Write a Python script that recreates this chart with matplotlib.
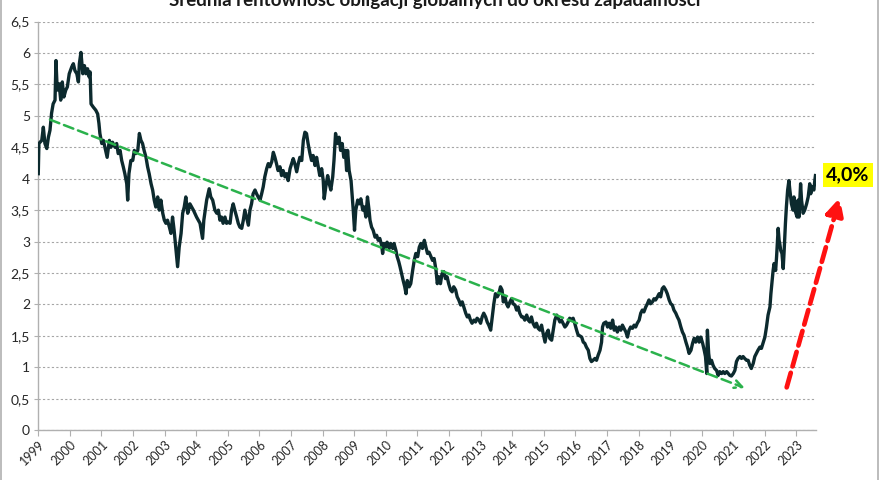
import numpy as np
import matplotlib
matplotlib.use('Agg')
import matplotlib.pyplot as plt
from matplotlib.lines import Line2D

plt.rcParams['font.family'] = ['Lato', 'DejaVu Sans']

# data (decimal year, yield in %)
years = [
    1999.00, 1999.02, 1999.11, 1999.16, 1999.21, 1999.27, 1999.32, 1999.37, 1999.42, 1999.47,
    1999.53, 1999.56, 1999.60, 1999.66, 1999.71, 1999.76, 1999.81, 1999.87, 1999.92, 1999.98,
    2000.06, 2000.11, 2000.16, 2000.22, 2000.27, 2000.30, 2000.35, 2000.41, 2000.46, 2000.51,
    2000.56, 2000.61, 2000.64, 2000.67, 2000.74, 2000.82, 2000.88, 2000.92, 2000.95, 2001.01,
    2001.06, 2001.11, 2001.18, 2001.25, 2001.30, 2001.35, 2001.43, 2001.48, 2001.53, 2001.59,
    2001.64, 2001.69, 2001.74, 2001.80, 2001.83, 2001.87, 2001.93, 2001.99, 2002.04, 2002.09,
    2002.15, 2002.20, 2002.25, 2002.30, 2002.35, 2002.41, 2002.46, 2002.51, 2002.57, 2002.62,
    2002.67, 2002.72, 2002.78, 2002.83, 2002.88, 2002.94, 2002.99, 2003.04, 2003.09, 2003.15,
    2003.20, 2003.25, 2003.30, 2003.36, 2003.41, 2003.46, 2003.52, 2003.57, 2003.62, 2003.67,
    2003.73, 2003.78, 2003.80, 2003.91, 2004.01, 2004.12, 2004.20, 2004.24, 2004.33, 2004.41,
    2004.46, 2004.52, 2004.59, 2004.65, 2004.70, 2004.75, 2004.80, 2004.85, 2004.91, 2004.96,
    2005.01, 2005.07, 2005.12, 2005.17, 2005.22, 2005.28, 2005.33, 2005.38, 2005.44, 2005.49,
    2005.54, 2005.59, 2005.65, 2005.70, 2005.75, 2005.80, 2005.86, 2005.91, 2005.96, 2006.02,
    2006.07, 2006.12, 2006.17, 2006.23, 2006.28, 2006.33, 2006.39, 2006.44, 2006.49, 2006.54,
    2006.59, 2006.65, 2006.70, 2006.75, 2006.81, 2006.86, 2006.91, 2006.97, 2007.02, 2007.07,
    2007.12, 2007.18, 2007.23, 2007.28, 2007.34, 2007.39, 2007.44, 2007.49, 2007.54, 2007.60,
    2007.65, 2007.70, 2007.76, 2007.81, 2007.86, 2007.91, 2007.97, 2008.02, 2008.05, 2008.10,
    2008.16, 2008.21, 2008.26, 2008.32, 2008.36, 2008.41, 2008.46, 2008.52, 2008.57, 2008.62,
    2008.67, 2008.72, 2008.76, 2008.79, 2008.84, 2008.90, 2008.94, 2008.97, 2009.01, 2009.05,
    2009.11, 2009.16, 2009.21, 2009.27, 2009.32, 2009.37, 2009.42, 2009.47, 2009.50, 2009.55,
    2009.60, 2009.66, 2009.71, 2009.76, 2009.81, 2009.87, 2009.90, 2009.94, 2010.00, 2010.04,
    2010.11, 2010.15, 2010.22, 2010.26, 2010.32, 2010.36, 2010.41, 2010.45, 2010.50, 2010.55,
    2010.60, 2010.64, 2010.68, 2010.74, 2010.79, 2010.85, 2010.90, 2010.95, 2011.01, 2011.06,
    2011.11, 2011.16, 2011.22, 2011.27, 2011.32, 2011.37, 2011.43, 2011.48, 2011.53, 2011.59,
    2011.63, 2011.68, 2011.73, 2011.78, 2011.84, 2011.89, 2011.94, 2011.99, 2012.05, 2012.10,
    2012.15, 2012.21, 2012.26, 2012.31, 2012.37, 2012.42, 2012.47, 2012.53, 2012.58, 2012.63,
    2012.68, 2012.73, 2012.79, 2012.84, 2012.89, 2012.95, 2013.00, 2013.05, 2013.10, 2013.16,
    2013.21, 2013.26, 2013.32, 2013.37, 2013.42, 2013.47, 2013.53, 2013.58, 2013.63, 2013.68,
    2013.72, 2013.77, 2013.82, 2013.87, 2013.93, 2013.98, 2014.03, 2014.09, 2014.14, 2014.19,
    2014.24, 2014.30, 2014.35, 2014.40, 2014.46, 2014.51, 2014.56, 2014.61, 2014.66, 2014.72,
    2014.77, 2014.82, 2014.88, 2014.93, 2014.98, 2015.04, 2015.09, 2015.14, 2015.19, 2015.25,
    2015.30, 2015.35, 2015.41, 2015.46, 2015.51, 2015.56, 2015.61, 2015.67, 2015.72, 2015.77,
    2015.82, 2015.88, 2015.93, 2015.98, 2016.04, 2016.09, 2016.14, 2016.20, 2016.25, 2016.30,
    2016.35, 2016.41, 2016.46, 2016.51, 2016.56, 2016.62, 2016.67, 2016.72, 2016.78, 2016.83,
    2016.86, 2016.90, 2016.97, 2017.02, 2017.07, 2017.12, 2017.18, 2017.23, 2017.28, 2017.33,
    2017.39, 2017.44, 2017.49, 2017.54, 2017.60, 2017.65, 2017.70, 2017.75, 2017.81, 2017.86,
    2017.91, 2017.96, 2018.02, 2018.07, 2018.12, 2018.17, 2018.23, 2018.28, 2018.33, 2018.38,
    2018.44, 2018.49, 2018.54, 2018.60, 2018.65, 2018.70, 2018.75, 2018.80, 2018.86, 2018.91,
    2018.97, 2019.02, 2019.07, 2019.12, 2019.18, 2019.23, 2019.28, 2019.34, 2019.39, 2019.44,
    2019.50, 2019.55, 2019.60, 2019.66, 2019.71, 2019.76, 2019.81, 2019.87, 2019.92, 2019.97,
    2020.03, 2020.08, 2020.12, 2020.16, 2020.18, 2020.22, 2020.26, 2020.31, 2020.36, 2020.41,
    2020.47, 2020.52, 2020.57, 2020.63, 2020.68, 2020.73, 2020.79, 2020.84, 2020.89, 2020.94,
    2021.00, 2021.05, 2021.10, 2021.15, 2021.21, 2021.26, 2021.31, 2021.36, 2021.42, 2021.47,
    2021.52, 2021.57, 2021.63, 2021.68, 2021.73, 2021.78, 2021.84, 2021.89, 2021.94, 2022.00,
    2022.05, 2022.10, 2022.16, 2022.19, 2022.23, 2022.26, 2022.29, 2022.34, 2022.37, 2022.42,
    2022.45, 2022.47, 2022.50, 2022.54, 2022.58, 2022.61, 2022.65, 2022.68, 2022.72, 2022.76,
    2022.79, 2022.84, 2022.89, 2022.92, 2022.97, 2023.02, 2023.05, 2023.08, 2023.13, 2023.16,
    2023.21, 2023.26, 2023.32, 2023.37, 2023.42, 2023.45, 2023.50, 2023.55, 2023.58, 2023.60,
]
yields = [
    4.08, 4.56, 4.61, 4.82, 4.56, 4.48, 4.66, 4.77, 5.04, 5.19,
    5.25, 5.88, 5.41, 5.51, 5.25, 5.54, 5.30, 5.41, 5.46, 5.67,
    5.78, 5.83, 5.72, 5.67, 5.54, 5.83, 6.01, 5.67, 5.80, 5.67,
    5.75, 5.62, 5.70, 5.19, 5.14, 5.09, 5.03, 4.88, 4.72, 4.56,
    4.61, 4.50, 4.34, 4.61, 4.50, 4.58, 4.50, 4.56, 4.40, 4.45,
    4.29, 4.19, 4.08, 3.92, 3.66, 4.08, 4.29, 4.29, 4.45, 4.40,
    4.45, 4.72, 4.61, 4.56, 4.45, 4.34, 4.19, 4.08, 3.92, 3.82,
    3.66, 3.55, 3.71, 3.50, 3.66, 3.45, 3.34, 3.29, 3.34, 3.23,
    3.13, 3.39, 3.18, 2.86, 2.60, 2.91, 3.13, 3.45, 3.55, 3.71,
    3.45, 3.55, 3.60, 3.50, 3.39, 3.29, 3.05, 3.34, 3.66, 3.84,
    3.71, 3.66, 3.50, 3.45, 3.50, 3.34, 3.39, 3.29, 3.39, 3.29,
    3.31, 3.29, 3.50, 3.60, 3.50, 3.39, 3.29, 3.23, 3.21, 3.34,
    3.50, 3.39, 3.26, 3.50, 3.60, 3.76, 3.82, 3.76, 3.71, 3.66,
    3.76, 3.87, 4.03, 4.16, 4.24, 4.19, 4.27, 4.42, 4.34, 4.24,
    4.13, 4.19, 4.05, 4.13, 4.03, 4.08, 3.97, 4.16, 4.24, 4.32,
    4.24, 4.11, 4.24, 4.34, 4.29, 4.61, 4.74, 4.72, 4.56, 4.40,
    4.29, 4.37, 4.21, 4.34, 4.19, 4.05, 4.16, 3.97, 3.68, 3.87,
    4.05, 3.92, 3.82, 4.03, 4.29, 4.72, 4.56, 4.66, 4.45, 4.56,
    4.34, 4.45, 4.13, 4.45, 4.13, 3.97, 3.71, 3.50, 3.18, 3.50,
    3.66, 3.60, 3.68, 3.50, 3.55, 3.39, 3.71, 3.50, 3.34, 3.23,
    3.18, 3.07, 3.10, 3.02, 3.05, 2.94, 2.81, 2.97, 2.91, 2.99,
    2.89, 2.97, 2.89, 2.97, 2.86, 2.76, 2.68, 2.60, 2.49, 2.38,
    2.28, 2.17, 2.38, 2.28, 2.33, 2.54, 2.70, 2.81, 2.76, 2.91,
    2.97, 2.89, 3.02, 2.91, 2.81, 2.83, 2.76, 2.70, 2.73, 2.54,
    2.33, 2.44, 2.33, 2.49, 2.52, 2.41, 2.44, 2.33, 2.23, 2.20,
    2.28, 2.23, 2.12, 2.07, 1.99, 2.04, 1.96, 1.86, 1.80, 1.83,
    1.75, 1.70, 1.75, 1.72, 1.78, 1.75, 1.70, 1.80, 1.86, 1.80,
    1.72, 1.67, 1.59, 1.80, 2.01, 2.17, 2.12, 2.17, 2.28, 2.23,
    2.04, 2.12, 2.01, 1.96, 2.04, 2.09, 2.01, 1.99, 1.91, 1.96,
    1.86, 1.80, 1.80, 1.75, 1.83, 1.75, 1.72, 1.80, 1.70, 1.64,
    1.70, 1.62, 1.59, 1.67, 1.54, 1.40, 1.54, 1.59, 1.46, 1.43,
    1.59, 1.75, 1.83, 1.78, 1.72, 1.75, 1.70, 1.64, 1.67, 1.72,
    1.78, 1.75, 1.78, 1.70, 1.59, 1.51, 1.50, 1.48, 1.40, 1.38,
    1.32, 1.27, 1.14, 1.09, 1.11, 1.14, 1.11, 1.19, 1.27, 1.40,
    1.64, 1.70, 1.72, 1.64, 1.70, 1.62, 1.75, 1.59, 1.64, 1.56,
    1.64, 1.59, 1.67, 1.62, 1.56, 1.48, 1.59, 1.64, 1.62, 1.67,
    1.64, 1.70, 1.75, 1.86, 1.91, 1.88, 1.96, 2.01, 2.07, 2.01,
    2.04, 2.09, 2.07, 2.12, 2.17, 2.12, 2.25, 2.28, 2.23, 2.17,
    2.07, 2.01, 1.99, 1.91, 1.86, 1.80, 1.75, 1.64, 1.56, 1.51,
    1.40, 1.32, 1.22, 1.27, 1.38, 1.46, 1.40, 1.48, 1.40, 1.48,
    1.38, 1.27, 1.17, 0.90, 1.59, 1.22, 1.06, 1.11, 1.03, 0.98,
    0.95, 0.87, 0.93, 0.90, 0.93, 0.90, 0.93, 0.90, 0.87, 0.86,
    0.90, 0.95, 1.09, 1.14, 1.17, 1.14, 1.17, 1.14, 1.11, 1.11,
    1.03, 0.98, 1.06, 1.17, 1.22, 1.27, 1.32, 1.30, 1.38, 1.48,
    1.64, 1.83, 1.96, 2.17, 2.38, 2.54, 2.65, 2.54, 2.76, 3.21,
    3.02, 2.97, 2.86, 2.81, 2.57, 2.86, 3.29, 3.55, 3.82, 3.97,
    3.82, 3.60, 3.50, 3.71, 3.47, 3.39, 3.66, 3.39, 3.92, 3.66,
    3.45, 3.50, 3.60, 3.71, 3.92, 3.76, 3.87, 3.82, 3.97, 4.05,
]

year_ticks = list(range(1999, 2024))
y_ticks = [0, 0.5, 1, 1.5, 2, 2.5, 3, 3.5, 4, 4.5, 5, 5.5, 6, 6.5]

# trend arrows (start, end) in data units
trend_down = [(1999.37, 4.94), (2021.36, 0.67)]
trend_up = [(2022.69, 0.68), (2024.37, 3.70)]
last_label = '4,0%'
title = 'Średnia rentowność obligacji globalnych do okresu zapadalności'

fig = plt.figure(figsize=(8.8, 4.8), dpi=100)
ax = fig.add_axes([0.0435, 0.104, 0.8835, 0.851])

ax.plot(years, yields, '-', color='#0c2a2e', lw=2.4, solid_joinstyle='round', zorder=3)

ax.set_xlim(1999, 2023.61)
ax.set_ylim(0, 6.5)
ax.set_yticks(y_ticks)
ax.set_yticklabels([('%g' % v).replace('.', ',') for v in y_ticks], fontsize=10, color='#262626')
ax.set_xticks(year_ticks)
ax.set_xticklabels([str(y) for y in year_ticks], rotation=45, ha='right',
                   rotation_mode='anchor', fontsize=9, color='#262626')
ax.tick_params(axis='x', length=4, color='#b0b0b0', pad=2)
ax.tick_params(axis='y', length=3, color='#b0b0b0', pad=3)

ax.grid(axis='y', color='#a6a6a6', lw=0.8, linestyle=(0, (2, 2)))
ax.set_axisbelow(True)
for s in ['top', 'right']:
    ax.spines[s].set_visible(False)
for s in ['left', 'bottom']:
    ax.spines[s].set_color('#b0b0b0')
    ax.spines[s].set_linewidth(1)

# green dashed down-trend arrow
ax.annotate('', xy=trend_down[1], xytext=trend_down[0],
            arrowprops=dict(arrowstyle='->', color='#2bb24c', lw=1.8,
                            linestyle=(0, (4, 2)), mutation_scale=14,
                            shrinkA=0, shrinkB=0),
            zorder=4)

# red dashed up arrow
ax.annotate('', xy=trend_up[1], xytext=trend_up[0], annotation_clip=False,
            arrowprops=dict(arrowstyle='-|>', color='#ff1111', lw=3.4,
                            linestyle=(0, (3.2, 1.4)), mutation_scale=26,
                            shrinkA=0, shrinkB=0),
            zorder=4)

fig.text(848 / 880, 1 - 175 / 480, last_label, fontsize=14, fontweight='bold',
         ha='center', va='center', color='black',
         bbox=dict(boxstyle='square,pad=0.18', facecolor='#ffff00', edgecolor='none'))

fig.text(435 / 880, 1 - 6 / 480, title, fontsize=13.5, fontweight='bold',
         ha='center', va='baseline', color='#1a1a1a')

# thin frame lines at the picture edges
fig.add_artist(Line2D([1 / 880, 1 / 880], [0, 1], color='#b0b0b0', lw=1.2))
fig.add_artist(Line2D([878 / 880, 878 / 880], [0, 1], color='#b0b0b0', lw=1.2))

fig.savefig('out.png', dpi=100)
